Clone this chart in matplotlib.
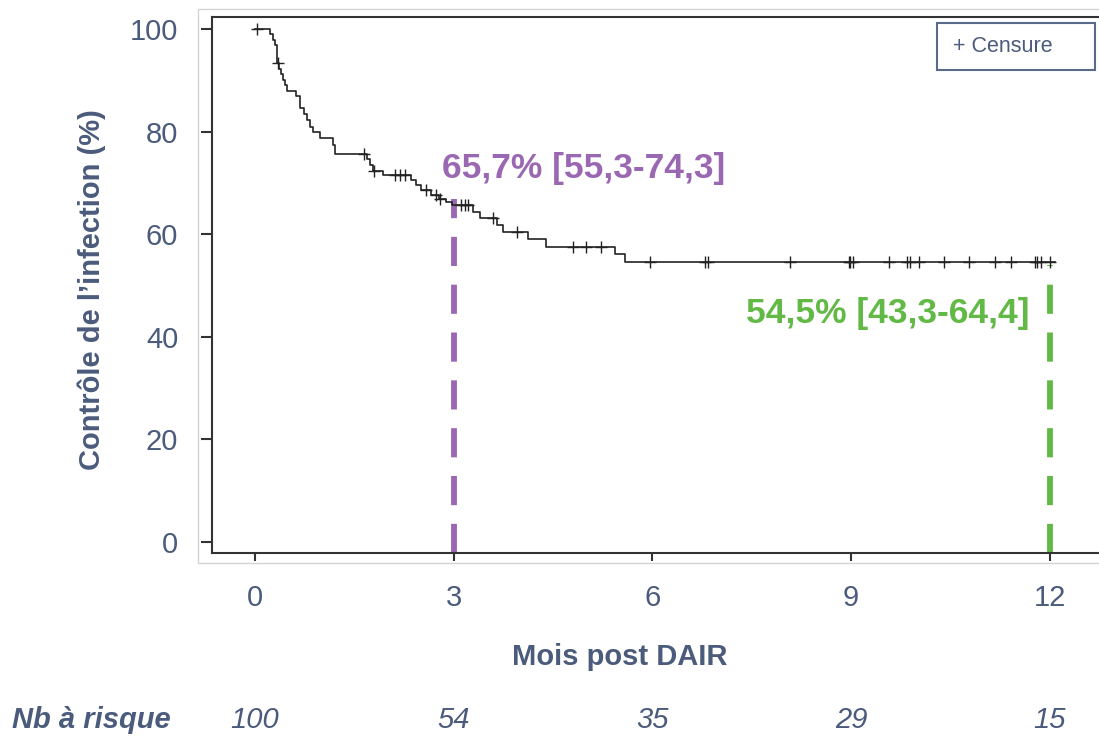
import matplotlib
matplotlib.use('Agg')
import matplotlib.pyplot as plt
import numpy as np
from matplotlib.patches import Rectangle
from matplotlib.transforms import blended_transform_factory

plt.rcParams['font.family'] = ['Liberation Sans Narrow', 'Liberation Sans', 'DejaVu Sans']

TEXT_COL = '#4B5B7C'
PURPLE = '#9A68B2'
GREEN = '#62B946'

# Kaplan-Meier steps (months, % infection control)
step_times = [0, 0.23, 0.27, 0.30, 0.33, 0.36, 0.39, 0.42, 0.45, 0.48,
              0.63, 0.69, 0.74, 0.79, 0.83, 0.88, 0.98, 1.18, 1.21, 1.69,
              1.74, 1.79, 1.94, 2.36, 2.43, 2.51, 2.66, 2.78, 2.89, 2.97,
              3.30, 3.40, 3.65, 3.75, 4.13, 4.39, 5.43, 5.58]
surv = [100, 99.0, 98.0, 97.0, 93.4, 92.3, 91.2, 90.1, 89.1, 88.0,
        86.9, 84.6, 83.5, 82.3, 81.0, 80.0, 78.7, 77.5, 75.6, 74.6,
        73.5, 72.4, 71.6, 70.6, 69.6, 68.6, 67.6, 66.9, 66.2, 65.7,
        64.4, 63.1, 61.8, 60.4, 59.0, 57.5, 56.1, 54.5]
end_time = 12.08

censor_times = [0.03, 0.35, 1.65, 1.80, 2.11, 2.19, 2.26, 2.59, 2.74, 2.79,
                3.12, 3.17, 3.22, 3.59, 3.95, 4.81, 5.00, 5.23, 5.97, 6.79,
                6.84, 8.08, 8.96, 8.99, 9.03, 9.57, 9.84, 9.89, 10.03, 10.40,
                10.78, 11.17, 11.41, 11.77, 11.81, 11.87, 12.0]

x_ticks = [0, 3, 6, 9, 12]
y_ticks = [0, 20, 40, 60, 80, 100]
at_risk = [100, 54, 35, 29, 15]

mark3 = (3, 65.7, '65,7% [55,3-74,3]')
mark12 = (12, 54.5, '54,5% [43,3-64,4]')

fig = plt.figure(figsize=(10.99, 7.38), dpi=100)
ax = fig.add_axes([0.1926, 0.2507, 0.8074, 0.7263])

# faint outer frame
fig.patches.append(Rectangle((198 / 1099, 1 - 563 / 738), 1.0, (563 - 9) / 738,
                             transform=fig.transFigure, fill=False,
                             edgecolor='#d4d4d4', lw=1.0))

t_line = step_times + [end_time]
s_line = surv + [surv[-1]]
ax.step(t_line, s_line, where='post', color='#222222', lw=1.2, zorder=3)

idx = np.searchsorted(step_times, censor_times, side='right') - 1
censor_s = np.array(surv)[idx]
ax.plot(censor_times, censor_s, '+', color='#222222', ms=8, mew=1.0, zorder=4)

# dashed reference lines
ax.plot([mark3[0], mark3[0]], [-2.2, 66.8], color=PURPLE, lw=4.2,
        dashes=(5, 3.2), zorder=2)
ax.plot([mark12[0], mark12[0]], [-2.2, 54.0], color=GREEN, lw=4.2,
        dashes=(5, 3.2), zorder=2)
ax.text(4.97, 72.9, mark3[2], color=PURPLE, fontsize=25.5, fontweight='bold',
        ha='center', va='center')
ax.text(9.55, 44.6, mark12[2], color=GREEN, fontsize=25.5, fontweight='bold',
        ha='center', va='center')

ax.set_xlim(-0.65, 12.74)
ax.set_ylim(-2.2, 102.4)
ax.set_xticks(x_ticks)
ax.set_yticks(y_ticks)
ax.spines['right'].set_visible(False)
for s in ['left', 'top', 'bottom']:
    ax.spines[s].set_color('#333333')
    ax.spines[s].set_linewidth(1.5)
ax.tick_params(axis='y', direction='out', length=8, width=1.5, color='#333333',
               labelsize=21, labelcolor=TEXT_COL, pad=16)
ax.tick_params(axis='x', direction='out', length=6, width=1.5, color='#333333',
               labelsize=21, labelcolor=TEXT_COL, pad=16)

fig.text(92 / 1099, 1 - 290 / 738, "Contrôle de l\u2019infection (%)", rotation=90,
         ha='center', va='center', fontsize=21, fontweight='bold', color=TEXT_COL)
fig.text(620 / 1099, 1 - 657 / 738, 'Mois post DAIR', ha='center', va='center',
         fontsize=21, fontweight='bold', color=TEXT_COL)

# legend box
fig.patches.append(Rectangle((937 / 1099, 1 - 70 / 738), 158 / 1099, 47 / 738,
                             transform=fig.transFigure, fill=False,
                             edgecolor='#5A6A8A', lw=1.5))
fig.text(953 / 1099, 1 - 47 / 738, '+ Censure', ha='left', va='center',
         fontsize=15.5, color=TEXT_COL)

# number at risk
tr = blended_transform_factory(ax.transData, fig.transFigure)
fig.text(12 / 1099, 1 - 720 / 738, 'Nb à risque', ha='left', va='center',
         fontsize=21, fontweight='bold', style='italic', color=TEXT_COL)
for xt, n in zip(x_ticks, at_risk):
    ax.text(xt, 1 - 720 / 738, str(n), transform=tr, ha='center', va='center',
            fontsize=21, style='italic', color=TEXT_COL, clip_on=False)

fig.savefig('out.png', dpi=100)
